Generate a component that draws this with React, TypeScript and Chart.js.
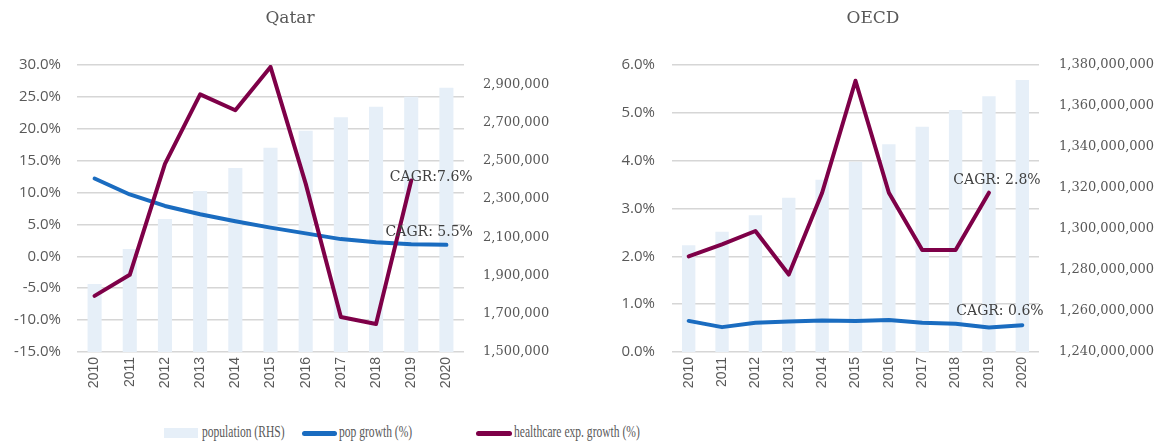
import React, { useEffect, useRef } from 'react';
import { Chart, registerables } from 'chart.js';

Chart.register(...registerables);

const years = ['2010', '2011', '2012', '2013', '2014', '2015', '2016', '2017', '2018', '2019', '2020'];

const qatarPopulation = [1855000, 2038000, 2195000, 2341000, 2462000, 2568000, 2657000, 2727000, 2782000, 2834000, 2881000];
const qatarPopGrowth = [12.2, 9.7, 7.9, 6.6, 5.5, 4.5, 3.6, 2.7, 2.2, 1.9, 1.8];
const qatarHealthGrowth = [-6.2, -2.9, 14.5, 25.4, 22.9, 29.7, 11.4, -9.5, -10.6, 11.9, null];
const qatarPopTicks = [1500000, 1700000, 1900000, 2100000, 2300000, 2500000, 2700000, 2900000];

const oecdPopulation = [1292100000, 1298600000, 1306700000, 1315200000, 1324000000, 1332800000, 1341400000, 1349900000, 1358000000, 1364700000, 1372700000];
const oecdPopGrowth = [0.65, 0.52, 0.61, 0.64, 0.66, 0.65, 0.67, 0.61, 0.59, 0.51, 0.56];
const oecdHealthGrowth = [2.0, 2.25, 2.53, 1.62, 3.33, 5.67, 3.33, 2.13, 2.13, 3.33, null];
const oecdPopTicks = [1240000000, 1260000000, 1280000000, 1300000000, 1320000000, 1340000000, 1360000000, 1380000000];

const legendLabels = ['population (RHS)', 'pop growth (%)', 'healthcare exp. growth (%)'];

const BAR_COLOR = '#e6eff8';
const BLUE = '#1a6cc0';
const MAROON = '#7e0048';
const TICK_COLOR = '#595959';

type CagrLabel = { ds: number; idx: number; dx: number; dy: number; text: string };

type PanelProps = {
  title: string;
  population: number[];
  popGrowth: number[];
  healthGrowth: (number | null)[];
  pctMin: number;
  pctMax: number;
  pctStep: number;
  popMin: number;
  popMax: number;
  popTicks: number[];
  leftWidth: number;
  rightWidth: number;
  leftPad: number;
  rightPad: number;
  labels: CagrLabel[];
  width: number;
  left: number;
};

function Panel(p: PanelProps) {
  const ref = useRef<HTMLCanvasElement | null>(null);
  useEffect(() => {
    if (!ref.current) return;
    const cagrPlugin = {
      id: 'cagrLabels',
      afterDatasetsDraw(chart: any) {
        const ctx = chart.ctx;
        ctx.save();
        ctx.font = '14px "DejaVu Serif"';
        ctx.fillStyle = '#404040';
        ctx.textAlign = 'center';
        ctx.textBaseline = 'middle';
        p.labels.forEach((l) => {
          const pt = chart.getDatasetMeta(l.ds).data[l.idx];
          if (pt) ctx.fillText(l.text, pt.x + l.dx, pt.y + l.dy);
        });
        ctx.restore();
      },
    };
    const chart = new Chart(ref.current, {
      type: 'bar',
      data: {
        labels: years,
        datasets: [
          {
            type: 'line',
            label: legendLabels[2],
            data: p.healthGrowth,
            borderColor: MAROON,
            backgroundColor: MAROON,
            borderWidth: 4,
            pointRadius: 0,
            tension: 0,
            borderCapStyle: 'round',
            borderJoinStyle: 'round',
            yAxisID: 'y',
            order: 0,
          },
          {
            type: 'line',
            label: legendLabels[1],
            data: p.popGrowth,
            borderColor: BLUE,
            backgroundColor: BLUE,
            borderWidth: 4,
            pointRadius: 0,
            tension: 0,
            borderCapStyle: 'round',
            borderJoinStyle: 'round',
            yAxisID: 'y',
            order: 1,
          },
          {
            type: 'bar',
            label: legendLabels[0],
            data: p.population,
            backgroundColor: BAR_COLOR,
            barPercentage: 0.4,
            categoryPercentage: 1,
            yAxisID: 'y1',
            order: 2,
          },
        ] as any,
      },
      options: {
        animation: false,
        responsive: false,
        maintainAspectRatio: false,
        layout: { padding: { left: 0, right: 0, top: 0, bottom: 0 } },
        plugins: {
          legend: { display: false },
          tooltip: { enabled: false },
          title: {
            display: true,
            text: p.title,
            color: TICK_COLOR,
            font: { family: '"DejaVu Serif"', size: 17, weight: 'normal' as any, lineHeight: 1.2 },
            padding: { top: 8, bottom: 36.6 },
          },
        },
        scales: {
          x: {
            grid: { display: false, drawTicks: false },
            border: { display: false },
            ticks: {
              color: TICK_COLOR,
              font: { family: '"Liberation Sans"', size: 14 },
              minRotation: 90,
              maxRotation: 90,
              padding: 5,
              autoSkip: false,
            },
            afterFit: (s: any) => {
              s.height = 58;
            },
          },
          y: {
            position: 'left',
            min: p.pctMin,
            max: p.pctMax,
            grid: { color: '#d6d6d6', lineWidth: 1.5, drawTicks: false },
            border: { display: false },
            ticks: {
              stepSize: p.pctStep,
              color: TICK_COLOR,
              font: { family: '"Open Sans"', size: 15 },
              padding: p.leftPad,
              callback: (v: any) => Number(v).toFixed(1) + '%',
            },
            afterFit: (s: any) => {
              s.width = p.leftWidth;
            },
          },
          y1: {
            position: 'right',
            min: p.popMin,
            max: p.popMax,
            grid: { display: false, drawTicks: false },
            border: { display: false },
            ticks: {
              color: TICK_COLOR,
              font: { family: '"DejaVu Serif"', size: 13 },
              padding: p.rightPad,
              callback: (v: any) => Number(v).toLocaleString('en-US'),
            },
            afterBuildTicks: (s: any) => {
              s.ticks = p.popTicks.map((v) => ({ value: v }));
            },
            afterFit: (s: any) => {
              s.width = p.rightWidth;
            },
          },
        },
      } as any,
      plugins: [cagrPlugin],
    });
    return () => chart.destroy();
  }, []);
  return (
    <canvas
      ref={ref}
      width={p.width}
      height={410}
      style={{ position: 'absolute', left: p.left, top: 0, width: p.width, height: 410 }}
    />
  );
}

const legendText: React.CSSProperties = {
  position: 'absolute',
  top: 422,
  fontFamily: '"Liberation Serif", serif',
  fontSize: 17,
  lineHeight: '20px',
  color: TICK_COLOR,
  whiteSpace: 'nowrap',
  transform: 'scaleX(0.68)',
  transformOrigin: 'left center',
};

export default function App() {
  return (
    <div style={{ position: 'fixed', left: 0, top: 0, width: 1166, height: 443, background: '#fff', overflow: 'hidden' }}>
      <Panel
        title="Qatar"
        population={qatarPopulation}
        popGrowth={qatarPopGrowth}
        healthGrowth={qatarHealthGrowth}
        pctMin={-15}
        pctMax={30}
        pctStep={5}
        popMin={1500000}
        popMax={3000000}
        popTicks={qatarPopTicks}
        leftWidth={77}
        rightWidth={116}
        leftPad={16}
        rightPad={19}
        width={580}
        left={0}
        labels={[
          { ds: 0, idx: 9, dx: 20, dy: -3, text: 'CAGR:7.6%' },
          { ds: 1, idx: 9, dx: 18, dy: -12, text: 'CAGR: 5.5%' },
        ]}
      />
      <Panel
        title="OECD"
        population={oecdPopulation}
        popGrowth={oecdPopGrowth}
        healthGrowth={oecdHealthGrowth}
        pctMin={0}
        pctMax={6}
        pctStep={1}
        popMin={1240000000}
        popMax={1380000000}
        popTicks={oecdPopTicks}
        leftWidth={92}
        rightWidth={127}
        leftPad={17}
        rightPad={20}
        width={586}
        left={580}
        labels={[
          { ds: 0, idx: 9, dx: 8, dy: -12, text: 'CAGR: 2.8%' },
          { ds: 1, idx: 9, dx: 11, dy: -16, text: 'CAGR: 0.6%' },
        ]}
      />
      <div style={{ position: 'absolute', left: 164, top: 428, width: 34, height: 10, background: BAR_COLOR }} />
      <div style={{ ...legendText, left: 202 }}>{legendLabels[0]}</div>
      <div style={{ position: 'absolute', left: 302, top: 430.5, width: 35, height: 5, borderRadius: 3, background: BLUE }} />
      <div style={{ ...legendText, left: 339 }}>{legendLabels[1]}</div>
      <div style={{ position: 'absolute', left: 476, top: 430.5, width: 36, height: 5, borderRadius: 3, background: MAROON }} />
      <div style={{ ...legendText, left: 514 }}>{legendLabels[2]}</div>
    </div>
  );
}
